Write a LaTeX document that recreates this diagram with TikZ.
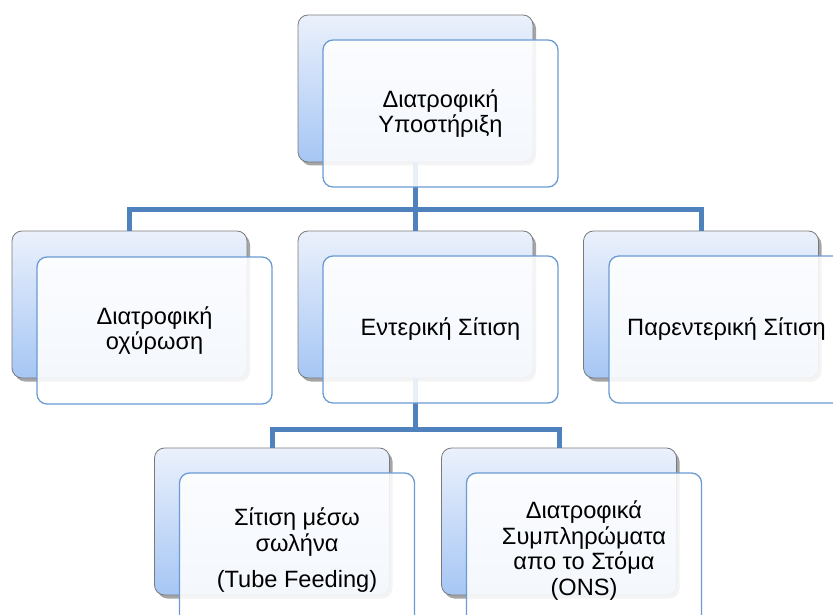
\documentclass[tikz,border=0pt]{standalone}
\usepackage{fontspec}
\setmainfont{Liberation Sans}
\usetikzlibrary{shadows}

\definecolor{linkblue}{HTML}{4F81BD}
\definecolor{frameblue}{HTML}{6A9BD3}
\definecolor{shadetop}{HTML}{EBF1FC}
\definecolor{shadebot}{HTML}{A6C6F4}
\definecolor{backframe}{HTML}{7A7A7A}

\tikzset{
  backbox/.style={draw=backframe, line width=0.8pt, rounded corners=10pt,
    minimum width=235pt, minimum height=147pt, inner sep=0pt,
    top color=shadetop, bottom color=shadebot,
    drop shadow={shadow xshift=3pt, shadow yshift=-3.5pt, opacity=0.5, fill=black!70}},
  frontbox/.style={draw=frameblue, line width=1.3pt, rounded corners=10pt,
    minimum width=235pt, minimum height=147pt, inner sep=2pt,
    fill=white, fill opacity=0.88, draw opacity=1, text opacity=1,
    align=center, text=black, font=\fontsize{23.6}{25.5}\selectfont},
  % bottom-row panels run past the lower edge of the page
  tallbox/.style={minimum height=155pt},
  link/.style={draw=linkblue, line width=5pt}
}

\begin{document}
\begin{tikzpicture}[x=1pt,y=1pt]
  \useasboundingbox (0,0) rectangle (833,-615);
  \clip (0,0) rectangle (833,-615);

  % back panels
  \node[backbox] (topb)   at (415.5,-88.5) {};
  \node[backbox] (leftb)  at (129.5,-304.5) {};
  \node[backbox] (midb)   at (415.5,-304.5) {};
  \node[backbox] (rightb) at (701,-304.5) {};
  \node[backbox] (tubeb)  at (272,-521.5) {};
  \node[backbox] (onsb)   at (559,-521.5) {};

  % connectors
  \coordinate (busA) at (415.5,-209);
  \coordinate (busB) at (415.5,-429);
  \draw[link] (topb.south) -- (busA);
  \draw[link] (leftb.north) |- (busA) -| (rightb.north);
  \draw[link] (busA) -- (midb.north);
  \draw[link] (midb.south) -- (busB);
  \draw[link] (tubeb.north) |- (busB) -| (onsb.north);

  % front panels with text
  \node[frontbox] (topf)   at (440.5,-113.5) {Διατροφική\\Υποστήριξη};
  \node[frontbox] (leftf)  at (154.5,-330.5) {Διατροφική\\οχύρωση};
  \node[frontbox] (midf)   at (440.5,-329.5) {Εντερική Σίτιση};
  \node[frontbox] (rightf) at (726.5,-329.5) {Παρεντερική Σίτιση};
  \node[frontbox,tallbox] (tubef) at (297,-550.5) {Σίτιση μέσω\\σωλήνα\\[11pt](Tube Feeding)};
  \node[frontbox,tallbox] (onsf)  at (584,-550.5) {Διατροφικά\\Συμπληρώματα\\απο το Στόμα\\(ONS)};
\end{tikzpicture}
\end{document}
